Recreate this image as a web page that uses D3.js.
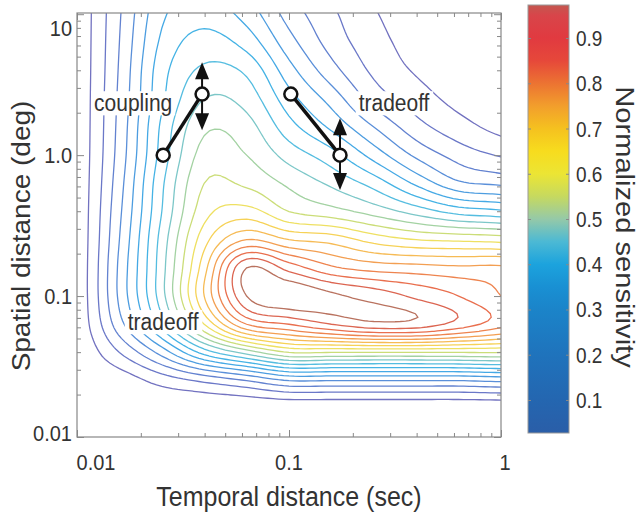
<!DOCTYPE html>
<html lang="en">
<head>
<meta charset="utf-8">
<title>Normalized sensitivity</title>
<script src="https://d3js.org/d3.v7.min.js"></script>
<style>
  body { margin: 0; background: #fff; }
  svg { display: block; font-family: Arial, "Liberation Sans", Helvetica, sans-serif; }
  .tick-label { fill: #333; font-size: 20px; }
  .bar-label { fill: #333; font-size: 19px; }
  .axis-title { fill: #333; font-size: 25px; }
  .note { fill: #333; font-size: 21px; }
  .axis path { display: none; }
  .axis line { stroke: #888; stroke-width: 1; }
</style>
</head>
<body>
<svg id="chart" width="642" height="514"></svg>
<script>
// sample positions of the sensitivity grid, log10 units
const logT = [-2.2, -2.0, -1.8, -1.6, -1.4, -1.2, -1.0, -0.8, -0.6, -0.4, -0.2, 0.0, 0.2];
const logS = [-2.2, -2.0, -1.8, -1.6, -1.4, -1.2, -1.0, -0.8, -0.6, -0.4, -0.2, 0.0, 0.2, 0.4, 0.6, 0.8, 1.0, 1.2];

// normalized sensitivity, one row per logS value (bottom to top), one column per logT value
const sensitivity = [
  [0, 0, 0, 0, 0, 0, 0, 0, 0, 0, 0, 0, 0],
  [0, 0, 0, 0, 0, 0, 0, 0, 0, 0, 0, 0, 0],
  [0, 0, 0.002, 0.004, 0.005, 0.005, 0.005, 0.005, 0.005, 0.005, 0.005, 0.005, 0.005],
  [0, 0.002, 0.02, 0.07, 0.11, 0.15, 0.2, 0.2, 0.2, 0.2, 0.2, 0.21, 0.21],
  [0, 0.008, 0.1, 0.22, 0.37, 0.47, 0.55, 0.55, 0.55, 0.55, 0.55, 0.55, 0.53],
  [0, 0.014, 0.18, 0.37, 0.6, 0.8, 0.85, 0.9, 0.935, 0.93, 0.88, 0.82, 0.77],
  [0, 0.015, 0.21, 0.43, 0.7, 0.95, 0.99, 0.96, 0.93, 0.89, 0.85, 0.8, 0.75],
  [0, 0.015, 0.21, 0.43, 0.68, 0.95, 0.88, 0.81, 0.78, 0.77, 0.76, 0.76, 0.73],
  [0, 0.015, 0.2, 0.42, 0.63, 0.75, 0.7, 0.68, 0.63, 0.6, 0.59, 0.58, 0.55],
  [0, 0.015, 0.19, 0.4, 0.58, 0.62, 0.55, 0.52, 0.48, 0.43, 0.38, 0.36, 0.32],
  [0, 0.015, 0.18, 0.39, 0.55, 0.54, 0.49, 0.44, 0.38, 0.29, 0.21, 0.19, 0.16],
  [0, 0.015, 0.17, 0.37, 0.52, 0.5, 0.43, 0.37, 0.28, 0.19, 0.13, 0.095, 0.07],
  [0, 0.015, 0.165, 0.36, 0.49, 0.47, 0.37, 0.29, 0.2, 0.12, 0.07, 0.035, 0.02],
  [0, 0.015, 0.16, 0.34, 0.45, 0.43, 0.32, 0.23, 0.13, 0.075, 0.035, 0.02, 0.01],
  [0, 0.015, 0.155, 0.33, 0.41, 0.39, 0.27, 0.17, 0.09, 0.045, 0.02, 0.01, 0.005],
  [0, 0.015, 0.15, 0.31, 0.37, 0.33, 0.22, 0.13, 0.07, 0.03, 0.012, 0.005, 0],
  [0, 0.015, 0.145, 0.29, 0.33, 0.28, 0.18, 0.11, 0.055, 0.02, 0.005, 0, 0],
  [0, 0.015, 0.14, 0.27, 0.3, 0.24, 0.15, 0.09, 0.04, 0.01, 0, 0, 0]
];

const levels = [0.05, 0.1, 0.15, 0.2, 0.25, 0.3, 0.35, 0.4, 0.45, 0.5, 0.55, 0.6, 0.65, 0.7, 0.75, 0.8, 0.85, 0.9, 0.95];
const levelColors = ["#7272c0", "#6b78c8", "#6382d0", "#5a8fd9", "#4d9de0", "#45a9e5", "#45b3e5", "#55bde0", "#7cc7c8", "#a3d2a2",
  "#cbdd78", "#eee062", "#f6d257", "#f6bb55", "#f39f52", "#ee844f", "#e96f4e", "#dc6652", "#b9725f"];

const xTicks = [0.01, 0.1, 1];
const xTickLabels = ["0.01", "0.1", "1"];
const yTicks = [0.01, 0.1, 1, 10];
const yTickLabels = ["0.01", "0.1", "1.0", "10"];

const barRange = [0.027, 0.973];
const barTicks = [0.1, 0.2, 0.3, 0.4, 0.5, 0.6, 0.7, 0.8, 0.9];
const barStops = [0.027, 0.1, 0.2, 0.3, 0.35, 0.4, 0.45, 0.5, 0.55, 0.6, 0.65, 0.7, 0.75, 0.8, 0.85, 0.9, 0.95, 0.973];
const barColors = ["#2a5ea8", "#2466b0", "#1f73bc", "#1b84c9", "#1990d3", "#1ca3dd", "#4cb9d4", "#95c9a8", "#c6d95f",
  "#ece534", "#f7dc1e", "#f5c11f", "#f29e2c", "#ec7332", "#e6483a", "#e13a40", "#d8454a", "#c35850"];

// annotation pairs [temporal sec, spatial deg]
const couplingPts = [[0.0255, 1.0], [0.0389, 2.71]];
const tradeoffPts = [[0.102, 2.71], [0.174, 1.0]];
// vertical arrows: [temporal, spatial low, spatial high]
const arrows = [[0.0389, 1.5, 4.57], [0.174, 0.565, 1.83]];
const notes = [
  { text: "coupling", t: 0.0184, s: 2.05 },
  { text: "tradeoff", t: 0.313, s: 2.05 },
  { text: "tradeoff", t: 0.0255, s: 0.0574 }
];

const svg = d3.select("#chart");
const plot = { left: 77, right: 501, top: 13, bottom: 437 };
const stretch = 1.12; // the original lettering is a little taller than wide

const x = d3.scaleLog().domain([0.01, 1]).range([plot.left, plot.right]);
const y = d3.scaleLog().domain([0.01, 10.2]).range([plot.bottom, plot.top]);

// smooth the grid a bit for drawing (cubic through the samples)
function cubic(p0, p1, p2, p3, t) {
  const m1 = (p2 - p0) / 2, m2 = (p3 - p1) / 2;
  const t2 = t * t, t3 = t2 * t;
  return (2 * t3 - 3 * t2 + 1) * p1 + (t3 - 2 * t2 + t) * m1 + (-2 * t3 + 3 * t2) * p2 + (t3 - t2) * m2;
}
function refine(arr, k) {
  const out = [], n = arr.length;
  for (let i = 0; i < n - 1; i++) {
    for (let s = 0; s < k; s++) {
      out.push(cubic(arr[Math.max(i - 1, 0)], arr[i], arr[i + 1], arr[Math.min(i + 2, n - 1)], s / k));
    }
  }
  out.push(arr[n - 1]);
  return out;
}

const k = 8;
const rowsFine = sensitivity.map(r => refine(r, k));
const nx = rowsFine[0].length;
const colsFine = d3.range(nx).map(i => refine(rowsFine.map(r => r[i]), k));
const ny = colsFine[0].length;
const values = new Array(nx * ny);
for (let j = 0; j < ny; j++) for (let i = 0; i < nx; i++) values[j * nx + i] = colsFine[i][j];

const dT = (logT[1] - logT[0]) / k, dS = (logS[1] - logS[0]) / k;
const px = c => x(Math.pow(10, logT[0] + (c - 0.5) * dT));
const py = c => y(Math.pow(10, logS[0] + (c - 0.5) * dS));

const contours = d3.contours().size([nx, ny]).thresholds(levels)(values);
const lineColor = d3.scaleOrdinal().domain(levels).range(levelColors);

svg.append("defs").append("clipPath").attr("id", "plot-clip")
  .append("rect")
  .attr("x", plot.left).attr("y", plot.top)
  .attr("width", plot.right - plot.left).attr("height", plot.bottom - plot.top);

const line = d3.line().x(p => px(p[0])).y(p => py(p[1]));

svg.append("g")
  .attr("clip-path", "url(#plot-clip)")
  .selectAll("path")
  .data(contours)
  .join("path")
  .attr("fill", "none")
  .attr("stroke", d => lineColor(d.value))
  .attr("stroke-width", 1.3)
  .attr("d", d => d.coordinates.map(poly => poly.map(ring => line(ring)).join("")).join(""));

// axes box and ticks (inward on all four sides)
const xMinor = [];
[0.01, 0.1].forEach(b => { for (let m = 2; m <= 9; m++) xMinor.push(b * m); });
const yMinor = [];
[0.01, 0.1, 1].forEach(b => { for (let m = 2; m <= 9; m++) yMinor.push(b * m); });

function ticks(axisFn, scale, vals, size, transform) {
  svg.append("g").attr("class", "axis").attr("transform", transform)
    .call(axisFn(scale).tickValues(vals).tickSize(-size).tickSizeOuter(0).tickFormat(""));
}
ticks(d3.axisBottom, x, xMinor, 4, `translate(0,${plot.bottom})`);
ticks(d3.axisBottom, x, xTicks, 7, `translate(0,${plot.bottom})`);
ticks(d3.axisTop, x, xMinor, 4, `translate(0,${plot.top})`);
ticks(d3.axisTop, x, xTicks, 7, `translate(0,${plot.top})`);
ticks(d3.axisLeft, y, yMinor, 4, `translate(${plot.left},0)`);
ticks(d3.axisLeft, y, yTicks, 7, `translate(${plot.left},0)`);
ticks(d3.axisRight, y, yMinor, 4, `translate(${plot.right},0)`);
ticks(d3.axisRight, y, yTicks, 7, `translate(${plot.right},0)`);

svg.append("rect")
  .attr("x", plot.left).attr("y", plot.top)
  .attr("width", plot.right - plot.left).attr("height", plot.bottom - plot.top)
  .attr("fill", "none").attr("stroke", "#888").attr("stroke-width", 1.2);

// tick labels (the end labels were nudged inward in the original)
const xNudge = [19, 0, 4];
svg.selectAll(".xlab").data(xTicks).join("text")
  .attr("class", "tick-label")
  .attr("transform", (d, i) => `translate(${x(d) + xNudge[i]},470) scale(1,${stretch})`)
  .attr("text-anchor", "middle")
  .text((d, i) => xTickLabels[i]);

const yNudge = [-4, 0, 0, 14];
svg.selectAll(".ylab").data(yTicks).join("text")
  .attr("class", "tick-label")
  .attr("transform", (d, i) => `translate(${plot.left - 5},${y(d) + yNudge[i] + 8}) scale(1,${stretch})`)
  .attr("text-anchor", "end")
  .text((d, i) => yTickLabels[i]);

svg.append("text").attr("class", "axis-title")
  .attr("transform", `translate(289,506) scale(1,${stretch})`).attr("text-anchor", "middle")
  .text("Temporal distance (sec)");
svg.append("text").attr("class", "axis-title")
  .attr("transform", `translate(30,236) rotate(-90) scale(${stretch},1)`).attr("text-anchor", "middle")
  .text("Spatial distance (deg)");

// colorbar
const bar = { left: 528, width: 41, top: 5, bottom: 433 };
const yBar = d3.scaleLinear().domain(barRange).range([bar.bottom, bar.top]);
const grad = svg.select("defs").append("linearGradient")
  .attr("id", "bar-grad").attr("x1", 0).attr("x2", 0).attr("y1", 1).attr("y2", 0);
grad.selectAll("stop").data(barStops).join("stop")
  .attr("offset", d => (d - barRange[0]) / (barRange[1] - barRange[0]))
  .attr("stop-color", (d, i) => barColors[i]);

svg.append("rect")
  .attr("x", bar.left).attr("y", bar.top)
  .attr("width", bar.width).attr("height", bar.bottom - bar.top)
  .attr("fill", "url(#bar-grad)").attr("stroke", "#999").attr("stroke-width", 1);

svg.append("g").attr("class", "axis")
  .attr("transform", `translate(${bar.left},0)`)
  .call(d3.axisRight(yBar).tickValues(barTicks).tickSize(3).tickFormat(""))
  .selectAll("line").attr("stroke", "#666");
svg.append("g").attr("class", "axis")
  .attr("transform", `translate(${bar.left + bar.width},0)`)
  .call(d3.axisLeft(yBar).tickValues(barTicks).tickSize(3).tickFormat(""))
  .selectAll("line").attr("stroke", "#666");

svg.selectAll(".blab").data(barTicks).join("text")
  .attr("class", "bar-label")
  .attr("transform", d => `translate(${bar.left + bar.width + 7},${yBar(d) + 8}) scale(1,${stretch})`)
  .text(d => d3.format(".1f")(d));

svg.append("text").attr("class", "axis-title")
  .attr("transform", `translate(616,227) rotate(90) scale(${stretch},1)`).attr("text-anchor", "middle")
  .style("font-size", "26px")
  .text("Normalized sensitivity");

// text notes on white boxes
notes.forEach(n => {
  const g = svg.append("g")
    .attr("transform", `translate(${x(n.t)},${y(n.s)}) scale(1,${stretch})`);
  const t = g.append("text").attr("class", "note")
    .attr("text-anchor", "middle").text(n.text);
  const b = t.node().getBBox();
  g.insert("rect", "text")
    .attr("x", b.x - 3).attr("y", b.y + 1).attr("width", b.width + 6).attr("height", b.height - 2)
    .attr("fill", "#fff");
});

// arrows
arrows.forEach(a => {
  const ax = x(a[0]), y0 = y(a[1]), y1 = y(a[2]);
  svg.append("line").attr("x1", ax).attr("x2", ax).attr("y1", y1 + 10).attr("y2", y0 - 10)
    .attr("stroke", "#111").attr("stroke-width", 2);
  svg.append("path").attr("fill", "#111")
    .attr("d", `M${ax},${y1} L${ax - 7},${y1 + 17} L${ax + 7},${y1 + 17} Z`);
  svg.append("path").attr("fill", "#111")
    .attr("d", `M${ax},${y0} L${ax - 7},${y0 - 17} L${ax + 7},${y0 - 17} Z`);
});

// pairs of conditions
[couplingPts, tradeoffPts].forEach(pts => {
  svg.append("line")
    .attr("x1", x(pts[0][0])).attr("y1", y(pts[0][1]))
    .attr("x2", x(pts[1][0])).attr("y2", y(pts[1][1]))
    .attr("stroke", "#111").attr("stroke-width", 3.5);
  svg.selectAll(null).data(pts).join("circle")
    .attr("cx", d => x(d[0])).attr("cy", d => y(d[1])).attr("r", 6.5)
    .attr("fill", "#fff").attr("stroke", "#111").attr("stroke-width", 2.5);
});
</script>
</body>
</html>
